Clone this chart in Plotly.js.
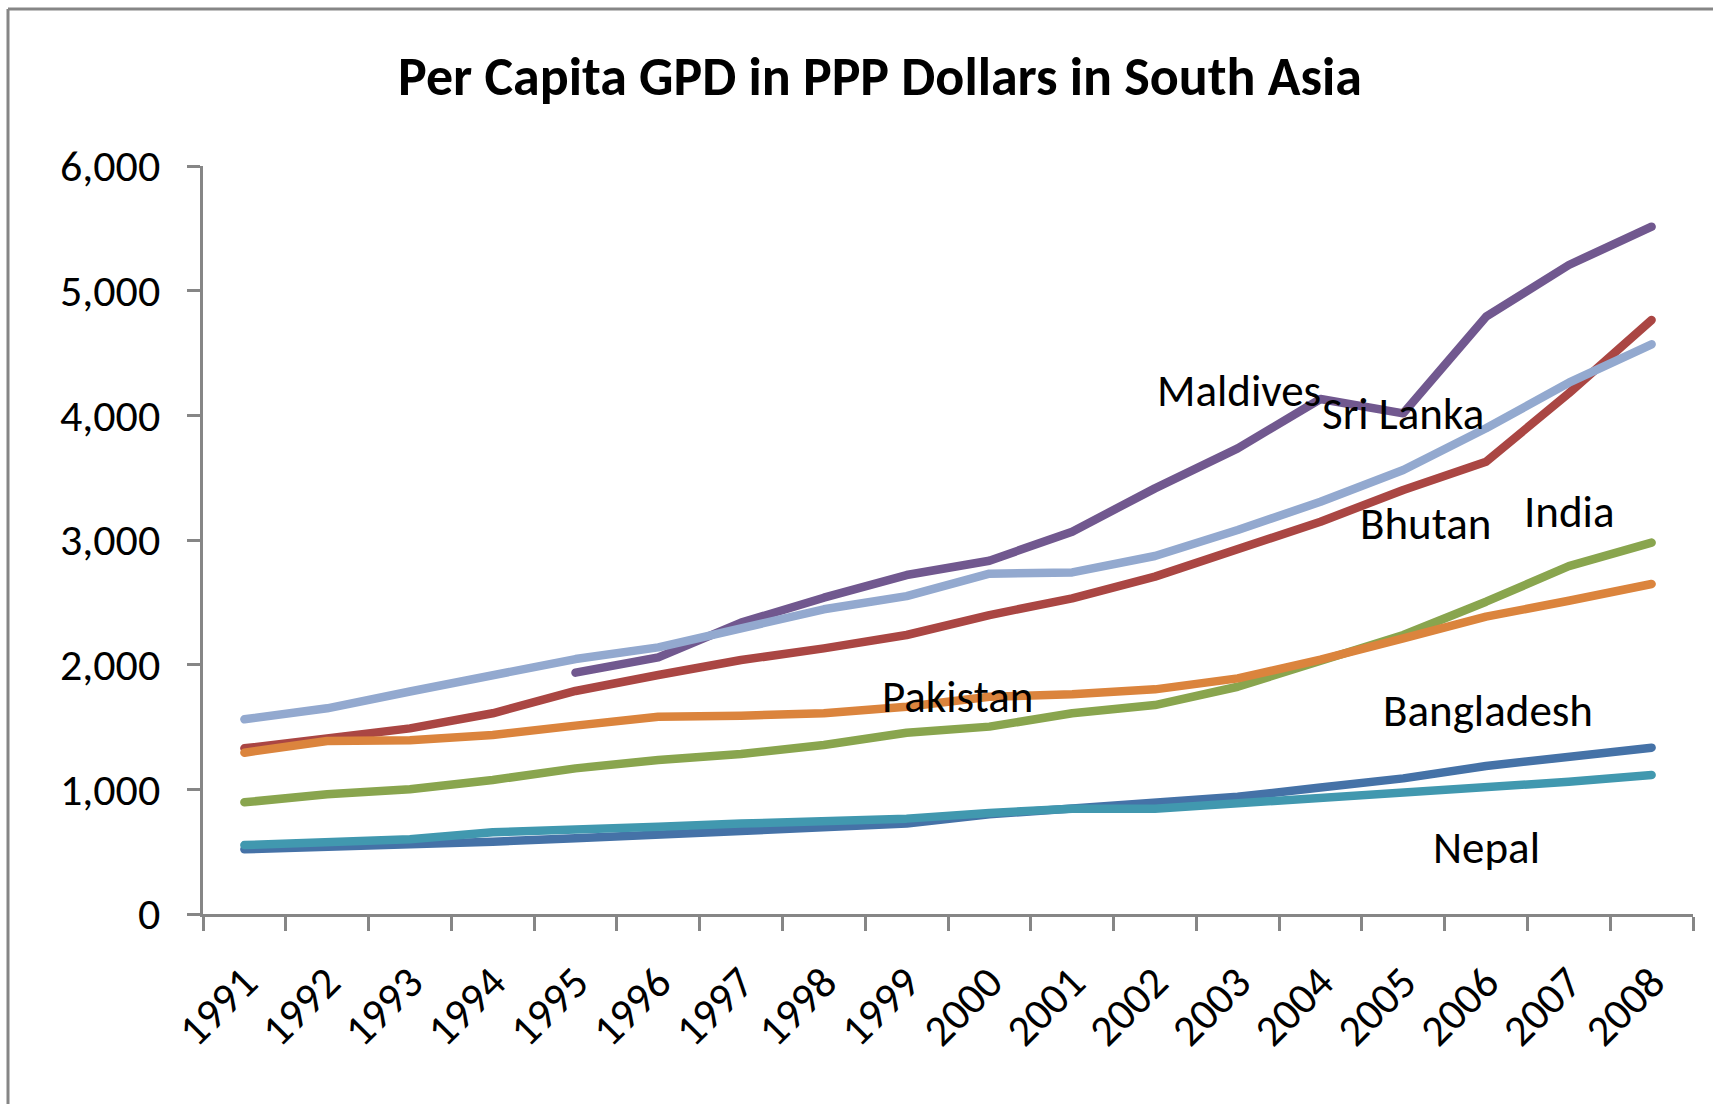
<!DOCTYPE html>
<html>
<head>
<meta charset="utf-8">
<script src="https://cdn.plot.ly/plotly-3.0.1.min.js"></script>
<style>
  html, body { margin: 0; padding: 0; background: #ffffff; }
  #chart { width: 1719px; height: 1104px; }
  .js-line { stroke-linecap: round; stroke-linejoin: round; }
</style>
</head>
<body>
<div id="chart"></div>
<script>
// ---- data ----
var years = ["1991","1992","1993","1994","1995","1996","1997","1998","1999","2000",
             "2001","2002","2003","2004","2005","2006","2007","2008"];

var bangladesh = [519, 535, 553, 580, 607, 634, 660, 687, 725, 800, 850, 885, 940, 1015, 1088, 1187, 1262, 1334];
var bhutan     = [1329, 1401, 1489, 1610, 1789, 1917, 2037, 2131, 2238, 2398, 2532, 2706, 2933, 3147, 3401, 3628, 4177, 4765];
var india      = [896, 960, 1000, 1075, 1168, 1235, 1283, 1356, 1454, 1503, 1610, 1676, 1823, 2025, 2238, 2505, 2790, 2979];
var maldives   = [null, null, null, null, 1936, 2059, 2337, 2537, 2719, 2834, 3067, 3414, 3735, 4131, 4016, 4791, 5206, 5513];
var nepal      = [553, 580, 600, 655, 672, 700, 725, 740, 765, 810, 845, 845, 885, 940, 973, 1021, 1061, 1115];
var pakistan   = [1294, 1388, 1393, 1436, 1511, 1583, 1591, 1610, 1663, 1743, 1762, 1802, 1890, 2040, 2211, 2385, 2513, 2647];
var sriLanka   = [1562, 1650, 1785, 1917, 2045, 2139, 2300, 2444, 2550, 2730, 2740, 2872, 3080, 3307, 3561, 3896, 4262, 4570];

var seriesNames = ["Bangladesh", "Bhutan", "India", "Maldives", "Nepal", "Pakistan", "Sri Lanka"];
var seriesValues = [bangladesh, bhutan, india, maldives, nepal, pakistan, sriLanka];
var seriesColors = ["#4572A7", "#AA4643", "#89A54E", "#71588F", "#4198AF", "#DB843D", "#93A9CF"];

var titleText = "Per Capita GPD in PPP Dollars in South Asia";

// ---- chart ----
var FONT = "Carlito, Calibri, Lato, 'Open Sans', sans-serif";

var traces = seriesNames.map(function (name, i) {
  return {
    type: "scatter",
    mode: "lines",
    name: name,
    x: years,
    y: seriesValues[i],
    line: { color: seriesColors[i], width: 8.5 },
    connectgaps: false,
    hoverinfo: "x+y+name"
  };
});

// in-chart series labels (category index, value position)
var labelSpecs = [
  { text: "Maldives",   x: 12.02, y: 4200 },
  { text: "Sri Lanka",  x: 14.0,  y: 4015 },
  { text: "Bhutan",     x: 14.27, y: 3135 },
  { text: "India",      x: 16.01, y: 3230 },
  { text: "Pakistan",   x: 8.61,  y: 1745 },
  { text: "Bangladesh", x: 15.02, y: 1635 },
  { text: "Nepal",      x: 15.01, y: 530 }
];
var annotations = labelSpecs.map(function (s) {
  return {
    text: s.text, x: s.x, y: s.y, xref: "x", yref: "y",
    showarrow: false, xanchor: "center", yanchor: "middle",
    font: { family: FONT, size: 45, color: "#000000" }
  };
});

var AX = "#868686";
var W = 1719, H = 1104;
var ML = 203, MR = 26, MT = 166, MB = 190;
var PW = W - ML - MR, PH = H - MT - MB;
function px2x(px) { return (px - ML) / PW; }
function py2y(py) { return (H - MB - py) / PH; }

var layout = {
  width: W,
  height: H,
  margin: { l: ML, r: MR, t: MT, b: MB, pad: 0 },
  paper_bgcolor: "#ffffff",
  plot_bgcolor: "#ffffff",
  showlegend: false,
  font: { family: FONT, color: "#000000" },
  title: {
    text: "<b>" + titleText + "</b>",
    font: { family: FONT, size: 54, color: "#000000" },
    xref: "container", yref: "container",
    x: 880 / W, y: 1 - 76 / H,
    xanchor: "center", yanchor: "middle"
  },
  xaxis: {
    type: "category",
    range: [-0.5, 17.5],
    showgrid: false,
    zeroline: false,
    showline: true,
    linecolor: AX,
    linewidth: 3,
    ticks: "outside",
    tickson: "boundaries",
    ticklen: 14,
    tickwidth: 3,
    tickcolor: AX,
    tickangle: -45,
    ticklabelstandoff: 22,
    tickfont: { family: FONT, size: 44, color: "#000000" },
    fixedrange: true
  },
  yaxis: {
    range: [0, 6000],
    dtick: 1000,
    tick0: 0,
    tickformat: ",d",
    showgrid: false,
    zeroline: false,
    showline: true,
    linecolor: AX,
    linewidth: 3,
    ticks: "outside",
    ticklen: 13,
    tickwidth: 3,
    tickcolor: AX,
    ticklabelstandoff: 18,
    tickfont: { family: FONT, size: 44, color: "#000000" },
    fixedrange: true
  },
  annotations: annotations,
  shapes: [
    { type: "line", xref: "paper", yref: "paper",
      x0: px2x(8), x1: px2x(8), y0: py2y(9), y1: py2y(1110),
      line: { color: AX, width: 3 } },
    { type: "line", xref: "paper", yref: "paper",
      x0: px2x(8), x1: px2x(1713), y0: py2y(9), y1: py2y(9),
      line: { color: AX, width: 3 } }
  ]
};

Plotly.newPlot("chart", traces, layout, { displayModeBar: false, staticPlot: true });
</script>
</body>
</html>
